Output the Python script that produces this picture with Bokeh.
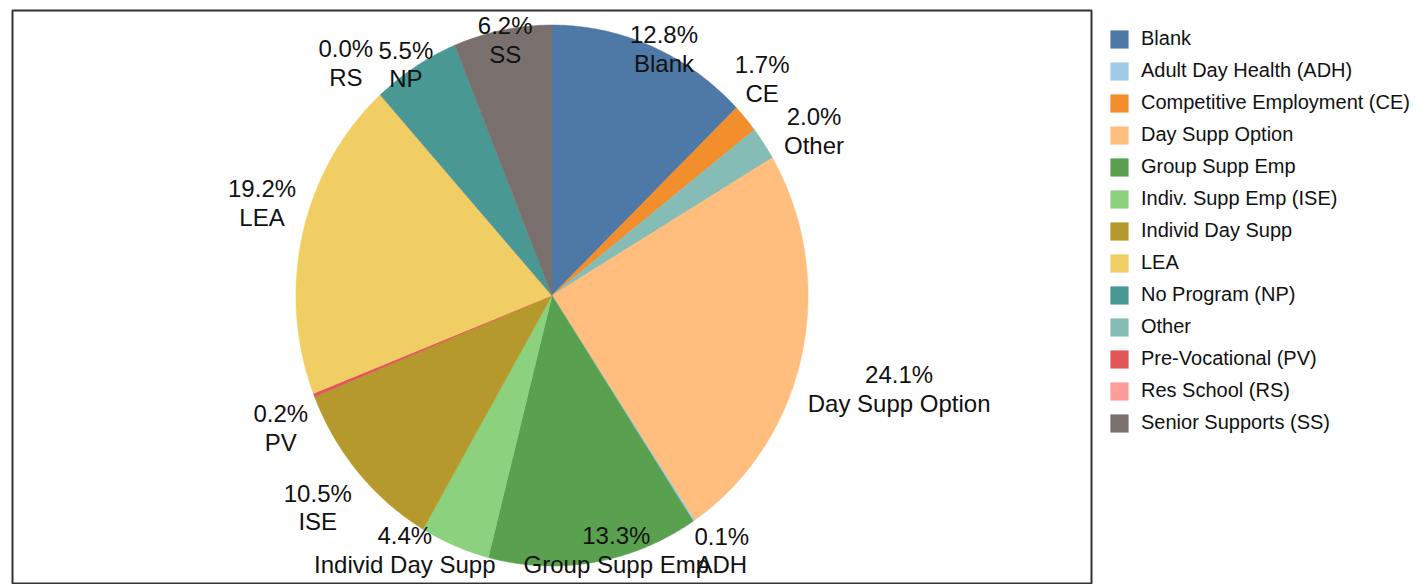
import numpy as np
from bokeh.plotting import figure
from bokeh.models import ColumnDataSource, Legend, LegendItem, Range1d
from bokeh.core.properties import value
from bokeh.embed import file_html
from bokeh.resources import INLINE

# ---------------- data (pie order, clockwise from 12 o'clock) ----------------
categories = ["Blank", "Competitive Employment (CE)", "Other", "Day Supp Option",
              "Adult Day Health (ADH)", "Group Supp Emp", "Indiv. Supp Emp (ISE)",
              "Individ Day Supp", "Pre-Vocational (PV)", "LEA", "Res School (RS)",
              "No Program (NP)", "Senior Supports (SS)"]
percents = [12.8, 1.7, 2.0, 24.1, 0.1, 13.3, 4.4, 10.5, 0.2, 19.2, 0.0, 5.5, 6.2]
slice_labels = ["Blank", "CE", "Other", "Day Supp Option", "ADH", "Group Supp Emp",
                "Individ Day Supp", "ISE", "PV", "LEA", "RS", "NP", "SS"]
legend_order = ["Blank", "Adult Day Health (ADH)", "Competitive Employment (CE)",
                "Day Supp Option", "Group Supp Emp", "Indiv. Supp Emp (ISE)",
                "Individ Day Supp", "LEA", "No Program (NP)", "Other",
                "Pre-Vocational (PV)", "Res School (RS)", "Senior Supports (SS)"]

# ---------------- styles / layout ----------------
palette = {
    "Blank": "#4E79A7", "Adult Day Health (ADH)": "#A0CBE8",
    "Competitive Employment (CE)": "#F28E2B", "Day Supp Option": "#FFBE7D",
    "Group Supp Emp": "#59A14F", "Indiv. Supp Emp (ISE)": "#8CD17D",
    "Individ Day Supp": "#B6992D", "LEA": "#F1CE63", "No Program (NP)": "#499894",
    "Other": "#86BCB6", "Pre-Vocational (PV)": "#E15759", "Res School (RS)": "#FF9D9A",
    "Senior Supports (SS)": "#79706E",
}
# label placement: radial factor and angular nudge (deg) relative to slice mid-angle
label_radius = [1.011, 1.146, 1.19, 1.399, 1.152, 0.974, 1.103, 1.204, 1.167, 1.183, 1.178, 1.028, 0.962]
label_shift = [2.6, -3.4, 3.5, 1.5, -1.5, -5.4, 9.1, 0.3, -3.2, 3.5, -1.0, -1.5, 0.2]

FONT = "Liberation Sans"

# ---------------- geometry from data ----------------
vals = np.array(percents, dtype=float)
frac = vals / vals.sum()
ends = np.cumsum(frac) * 2 * np.pi
starts = ends - frac * 2 * np.pi

xs, ys = [], []
for a0, a1 in zip(starts, ends):
    n = max(2, int(np.ceil((a1 - a0) / (2 * np.pi) * 720)) + 1)
    t = np.linspace(a0, a1, n)
    xs.append([0.0] + list(np.sin(t)) + [0.0])
    ys.append([0.0] + list(np.cos(t)) + [0.0])

src = ColumnDataSource(dict(xs=xs, ys=ys, cat=categories,
                            color=[palette[c] for c in categories]))

mid = (starts + ends) / 2 + np.radians(label_shift)
lr = np.array(label_radius)
lab_src = ColumnDataSource(dict(
    x=lr * np.sin(mid), y=lr * np.cos(mid),
    text=[f"{v:.1f}%\n{s}" for v, s in zip(percents, slice_labels)]))

# ---------------- figure ----------------
p = figure(frame_width=1079, frame_height=574, output_backend="svg", toolbar_location=None,
           x_range=Range1d(-2.107, 2.107), y_range=Range1d(-1.0684, 1.0536),
           x_axis_location=None, y_axis_location=None,
           min_border_left=12, min_border_top=10, min_border_right=336, min_border_bottom=0)
p.grid.visible = False
p.outline_line_color = "#333333"
p.outline_line_width = 2
p.background_fill_color = "white"
p.border_fill_color = "white"

r = p.patches("xs", "ys", source=src, fill_color="color", line_color="color", line_width=0.5)

p.text("x", "y", text="text", source=lab_src, text_font=value(FONT), text_font_size="24px",
       text_align="center", text_baseline="middle", text_color="#111111",
       text_line_height=1.05)

items = [LegendItem(label=name, renderers=[r], index=categories.index(name)) for name in legend_order]
legend = Legend(items=items, location="top_left", margin=17, padding=3,
                border_line_color=None, background_fill_alpha=0,
                glyph_width=22, glyph_height=22, label_height=22, spacing=9,
                label_standoff=11, label_text_font=FONT, label_text_font_size="20px",
                label_text_color="#111111")
p.add_layout(legend, "right")

open("out.html", "w").write(file_html(p, INLINE))
